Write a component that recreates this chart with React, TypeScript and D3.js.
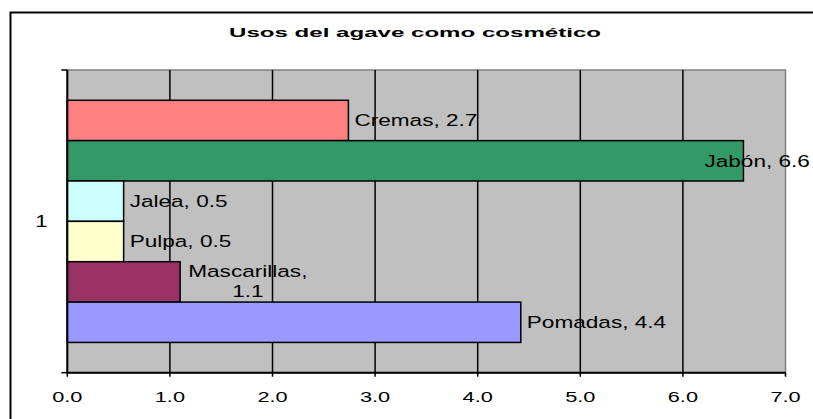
import React from "react";
import * as d3 from "d3";

// data, top to bottom as drawn
const categories = ["Cremas", "Jabón", "Jalea", "Pulpa", "Mascarillas", "Pomadas"];
const values = [2.74, 6.59, 0.549, 0.549, 1.1, 4.42];
const colors = ["#FF8080", "#339966", "#CCFFFF", "#FFFFCC", "#993366", "#9999FF"];
const xTicks = [0, 1, 2, 3, 4, 5, 6, 7];
const seriesLabel = "1";
const title = "Usos del agave como cosmético";

const FONT = "'Liberation Sans', Arial, sans-serif";

// text in the original is stretched sideways
const LABEL_SIZE = 16.5;
const LABEL_SX = 1.37;

let ctx: CanvasRenderingContext2D | null = null;
const measure = (txt: string, size: number, weight = "normal") => {
  if (!ctx) ctx = document.createElement("canvas").getContext("2d");
  if (!ctx) return txt.length * size * 0.55;
  ctx.font = `${weight} ${size}px ${FONT}`;
  return ctx.measureText(txt).width;
};

const SText = ({ x, y, sx, size, anchor = "start", weight = "normal", children }: any) => (
  <text
    transform={`translate(${x},${y}) scale(${sx},1)`}
    fontSize={size}
    fontWeight={weight}
    fontFamily={FONT}
    textAnchor={anchor}
    fill="#000"
  >
    {children}
  </text>
);

export default function App() {
  const W = 813;
  const H = 419;
  const outer = { left: 10.5, top: 12.5, right: 819.5 };
  const plot = { left: 67.3, top: 70, right: 785.5, bottom: 372.7 };

  const x = d3.scaleLinear().domain([0, 7]).range([plot.left, plot.right]);
  const y = d3
    .scaleBand<string>()
    .domain(categories)
    .range([plot.top, plot.bottom])
    .paddingInner(0)
    .paddingOuter(0.75);
  const fmt = d3.format(".1f");

  return (
    <div style={{ position: "absolute", left: 0, top: 0 }}>
      <svg width={W} height={H} style={{ display: "block", background: "#fff" }}>
        {/* chart border */}
        <rect x={outer.left} y={outer.top} width={outer.right - outer.left} height={H} fill="#fff" stroke="#000" strokeWidth={2} />

        {/* title */}
        <text
          x={415}
          y={36.7}
          fontSize={13.5}
          fontWeight="bold"
          fontFamily={FONT}
          textAnchor="middle"
          textLength={372}
          lengthAdjust="spacingAndGlyphs"
        >
          {title}
        </text>

        {/* plot area */}
        <rect
          x={plot.left}
          y={plot.top}
          width={plot.right - plot.left}
          height={plot.bottom - plot.top}
          fill="#C0C0C0"
          stroke="#808080"
          strokeWidth={1.5}
        />

        {/* gridlines */}
        {xTicks.slice(1, -1).map((t) => (
          <line key={t} x1={x(t)} x2={x(t)} y1={plot.top} y2={plot.bottom} stroke="#000" strokeWidth={1.5} />
        ))}

        {/* bars */}
        {categories.map((c, i) => (
          <rect
            key={c}
            x={x(0)}
            y={y(c)}
            width={x(values[i]) - x(0)}
            height={y.bandwidth()}
            fill={colors[i]}
            stroke="#000"
            strokeWidth={1.5}
          />
        ))}

        {/* axes */}
        <line x1={plot.left} x2={plot.left} y1={plot.top} y2={plot.bottom} stroke="#000" strokeWidth={2} />
        <line x1={plot.left - 6} x2={plot.left} y1={plot.top} y2={plot.top} stroke="#000" strokeWidth={1.5} />
        <line x1={plot.left - 6} x2={plot.left} y1={plot.bottom} y2={plot.bottom} stroke="#000" strokeWidth={1.5} />
        <line x1={plot.left} x2={plot.right} y1={plot.bottom} y2={plot.bottom} stroke="#000" strokeWidth={2} />
        {xTicks.map((t) => (
          <g key={t}>
            <line x1={x(t)} x2={x(t)} y1={plot.bottom} y2={plot.bottom + 4} stroke="#000" strokeWidth={1.5} />
            <SText x={x(t)} y={402.3} sx={1.5} size={14.5} anchor="middle">
              {fmt(t)}
            </SText>
          </g>
        ))}

        {/* category label */}
        <SText x={41.5} y={(plot.top + plot.bottom) / 2 + 6} sx={1.3} size={17} anchor="middle">
          {seriesLabel}
        </SText>

        {/* data labels */}
        {categories.map((c, i) => {
          const label = `${c}, ${fmt(values[i])}`;
          const cy = (y(c) as number) + y.bandwidth() / 2;
          const bx = x(values[i]) + 6;
          if (c === "Mascarillas") {
            const l1 = `${c},`;
            const w1 = measure(l1, LABEL_SIZE) * LABEL_SX;
            const mid = bx + 2 + w1 / 2;
            return (
              <g key={c}>
                <SText x={mid} y={cy - 5.3} sx={LABEL_SX} size={LABEL_SIZE} anchor="middle">{l1}</SText>
                <SText x={mid} y={cy + 14.7} sx={LABEL_SX} size={LABEL_SIZE} anchor="middle">{fmt(values[i])}</SText>
              </g>
            );
          }
          const w = measure(label, LABEL_SIZE) * LABEL_SX;
          const lx = Math.min(bx, W - 3 - w);
          return (
            <SText key={c} x={lx} y={cy + 5.7} sx={LABEL_SX} size={LABEL_SIZE}>
              {label}
            </SText>
          );
        })}
      </svg>
    </div>
  );
}
